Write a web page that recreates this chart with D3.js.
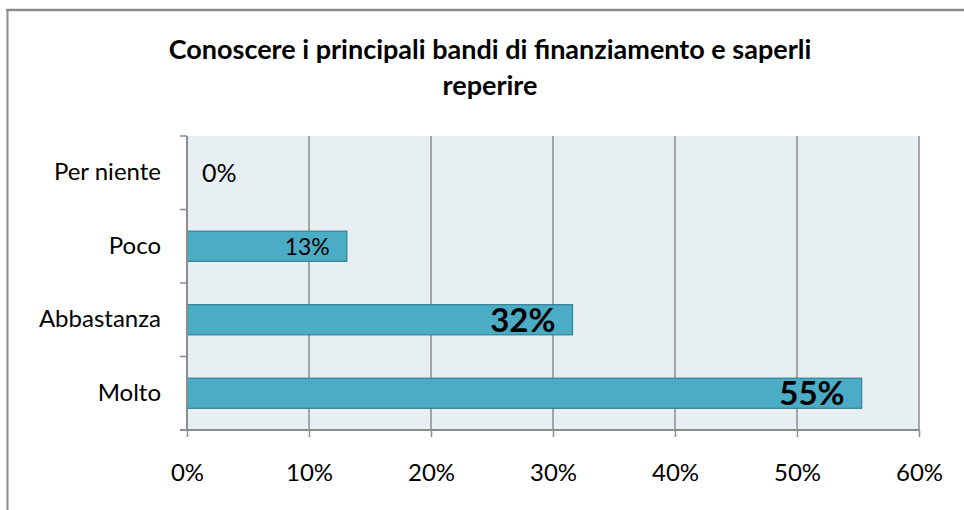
<!DOCTYPE html>
<html><head><meta charset="utf-8">
<script src="https://cdn.jsdelivr.net/npm/d3@7"></script>
<style>html,body{margin:0;padding:0;background:#fff;}svg{display:block;}</style>
</head><body>
<script>
const titleLines = ["Conoscere i principali bandi di finanziamento e saperli", "reperire"];
const categories = ["Per niente", "Poco", "Abbastanza", "Molto"];
const values = [0, 0.131, 0.316, 0.553];
const valueLabels = ["0%", "13%", "32%", "55%"];
const xTicks = [0, 0.1, 0.2, 0.3, 0.4, 0.5, 0.6];

const W = 964, H = 510;
const font = "Lato, 'Open Sans', 'Liberation Sans', sans-serif";
const svg = d3.select("body").append("svg").attr("width", W).attr("height", H);

// chart border (top and left visible)
svg.append("line").attr("x1", 6).attr("x2", W).attr("y1", 10).attr("y2", 10).attr("stroke", "#8a8a8a").attr("stroke-width", 2.5);
svg.append("line").attr("x1", 7.5).attr("x2", 7.5).attr("y1", 10).attr("y2", H).attr("stroke", "#8a8a8a").attr("stroke-width", 2);

const plot = {left: 187, right: 919, top: 136, bottom: 430};
const x = d3.scaleLinear().domain([0, 0.6]).range([plot.left, plot.right]);
const y = d3.scaleBand().domain(categories).range([plot.top, plot.bottom]).paddingInner(0.59).paddingOuter(0.295);
const yOuter = d3.scaleBand().domain(categories).range([plot.top, plot.bottom]);

// plot background
svg.append("rect").attr("x", plot.left).attr("y", plot.top).attr("width", plot.right - plot.left).attr("height", plot.bottom - plot.top).attr("fill", "#e8eff3");

// gridlines
svg.append("g").selectAll("line").data(xTicks.slice(1)).join("line")
  .attr("x1", d => x(d)).attr("x2", d => x(d)).attr("y1", plot.top).attr("y2", plot.bottom)
  .attr("stroke", "#8c8c8c").attr("stroke-width", 1.5);

// bars
svg.append("g").selectAll("rect").data(values).join("rect")
  .attr("x", x(0)).attr("y", (d, i) => y(categories[i]))
  .attr("width", d => x(d) - x(0)).attr("height", y.bandwidth())
  .attr("fill", "#4bacc6").attr("stroke", "#357f93").attr("stroke-width", 1.2)
  .attr("display", d => d > 0 ? null : "none");

// x axis
const xAxis = d3.axisBottom(x).tickValues(xTicks).tickFormat(d3.format(".0%")).tickSize(7).tickPadding(27);
const gx = svg.append("g").attr("transform", `translate(0,${plot.bottom})`).call(xAxis);
gx.select(".domain").attr("stroke", "#8c8c8c").attr("stroke-width", 2).attr("d", `M${plot.left - 7},0H${plot.right}`);
gx.selectAll(".tick line").attr("stroke", "#8c8c8c").attr("stroke-width", 1.5);
gx.selectAll("text").attr("font-family", font).attr("font-size", 24).attr("fill", "#000");

// y axis
const yAxis = d3.axisLeft(yOuter).tickSize(0).tickPadding(26);
const gy = svg.append("g").attr("transform", `translate(${plot.left},0)`).call(yAxis);
gy.select(".domain").attr("stroke", "#8c8c8c").attr("stroke-width", 2).attr("d", `M0,${plot.top}V${plot.bottom}`);
gy.selectAll("text").attr("font-family", font).attr("font-size", 24).attr("fill", "#000");
// category boundary ticks
const bounds = categories.map(c => yOuter(c)).concat([plot.bottom]);
svg.append("g").selectAll("line").data(bounds).join("line")
  .attr("x1", plot.left - 7).attr("x2", plot.left).attr("y1", d => d).attr("y2", d => d)
  .attr("stroke", "#8c8c8c").attr("stroke-width", 1.5);

// value labels
const labelStyle = [{size: 25, weight: 400}, {size: 23, weight: 400}, {size: 33, weight: 700}, {size: 33, weight: 700}];
svg.append("g").selectAll("text").data(values).join("text")
  .attr("x", d => d > 0 ? x(d) - 17 : x(0) + 15)
  .attr("y", (d, i) => y(categories[i]) + y.bandwidth() / 2)
  .attr("dy", "0.36em")
  .attr("text-anchor", d => d > 0 ? "end" : "start")
  .attr("font-family", font)
  .attr("font-size", (d, i) => labelStyle[i].size)
  .attr("font-weight", (d, i) => labelStyle[i].weight)
  .attr("fill", "#000")
  .text((d, i) => valueLabels[i]);

// title
svg.append("g").selectAll("text").data(titleLines).join("text")
  .attr("x", 490).attr("y", (d, i) => 59 + i * 36)
  .attr("text-anchor", "middle").attr("font-family", font).attr("font-weight", 700).attr("font-size", 27)
  .attr("fill", "#000").text(d => d);
</script>
</body></html>
